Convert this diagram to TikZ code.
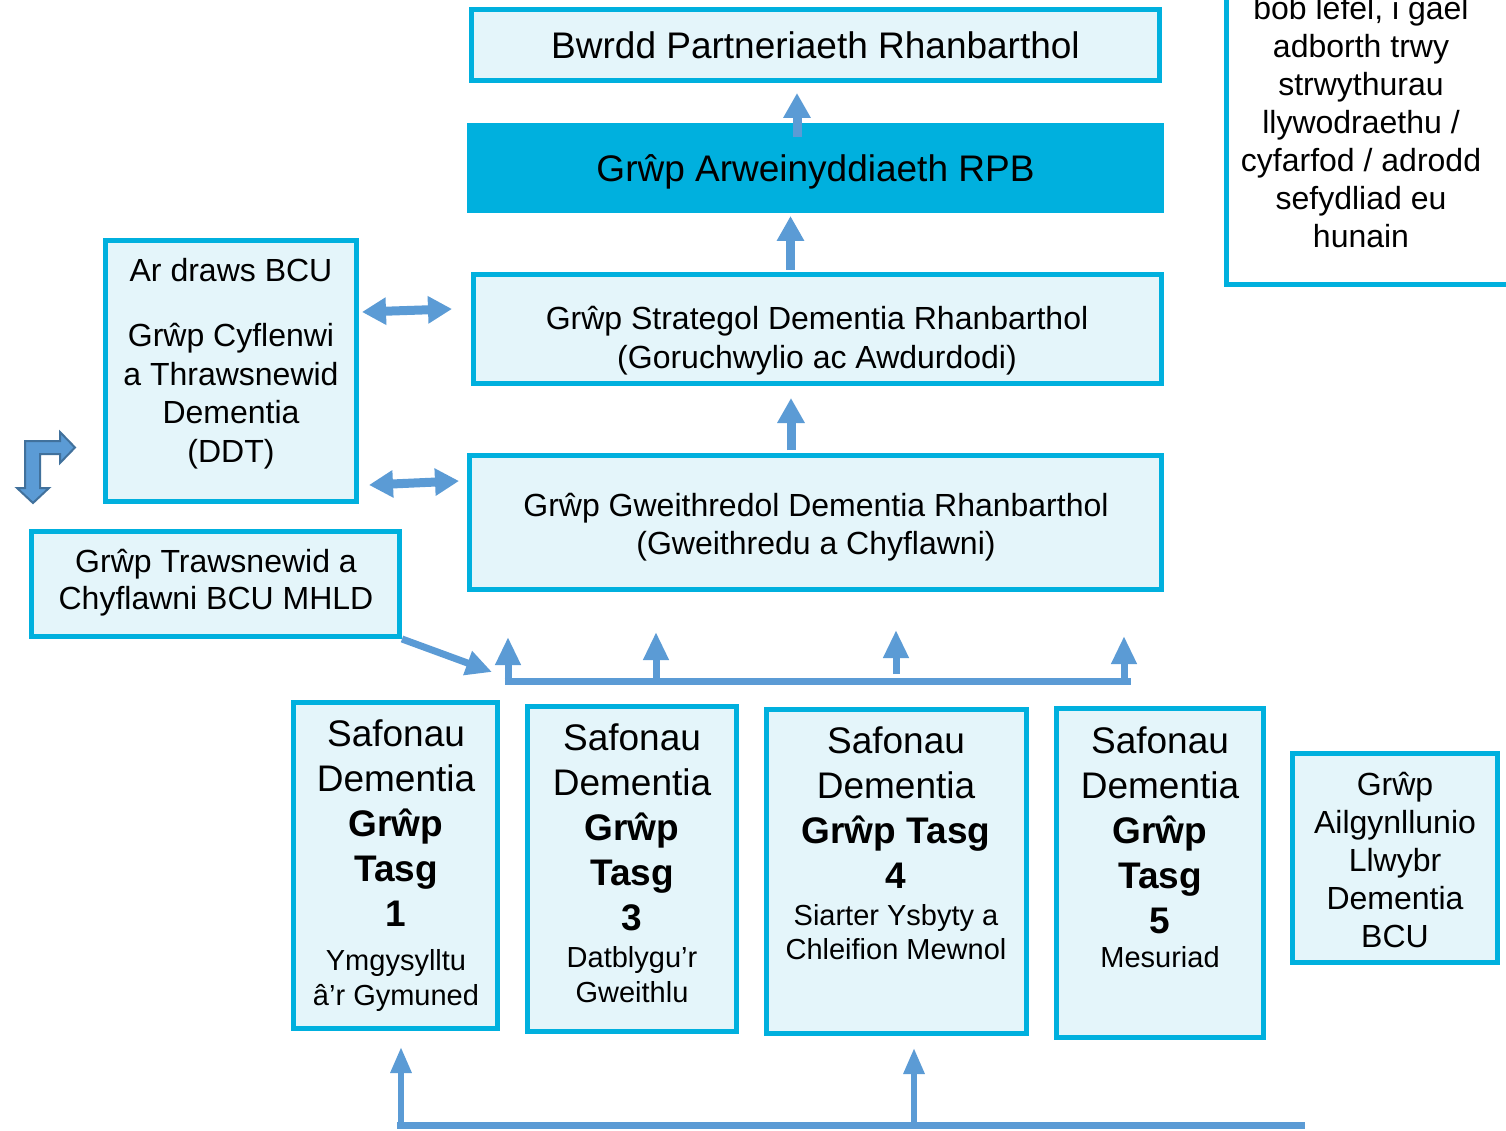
\documentclass[tikz,border=0pt]{standalone}
\usepackage{fontspec}
\setmainfont{Liberation Sans}
\usetikzlibrary{arrows.meta}
\definecolor{cyanB}{RGB}{0,176,222}
\definecolor{lightB}{RGB}{228,245,250}
\definecolor{arrowB}{RGB}{91,155,213}
\definecolor{arrowD}{RGB}{65,113,156}
\begin{document}
\begin{tikzpicture}[x=1pt,y=-1pt,
 box/.style={draw=cyanB, line width=5pt, fill=lightB, inner sep=0pt},
 txt/.style={inner sep=0pt, align=center, anchor=north, text=black},
 big/.style={font=\fontsize{37}{45}\selectfont},
 mid/.style={font=\fontsize{32}{38.5}\selectfont},
 small/.style={font=\fontsize{29}{35}\selectfont},
 upar/.style={draw=arrowB, line width=9pt, -{Triangle[width=26pt,length=25pt]}},
 dblar/.style={draw=arrowB, line width=9pt, {Triangle[width=26pt,length=24pt]}-{Triangle[width=26pt,length=24pt]}},
 busar/.style={draw=arrowB, line width=7pt, -{Triangle[width=24pt,length=28pt]}},
 busline/.style={draw=arrowB, line width=7pt},
 botar/.style={draw=arrowB, line width=6pt, -{Triangle[width=20pt,length=26pt]}},
 diagar/.style={draw=arrowB, line width=7pt, -{Triangle[width=24pt,length=26pt]}}
]
\useasboundingbox (0,0) rectangle (1506,1131);
\fill[white] (0,0) rectangle (1506,1131);
\clip (0,0) rectangle (1506,1131);

% top boxes
\node[box, minimum width=688pt, minimum height=71pt, big] (bwrdd) at (815.5,45) {Bwrdd Partneriaeth Rhanbarthol};
\node[fill=cyanB, minimum width=697pt, minimum height=90pt, inner sep=0pt, big, text height=27pt, text depth=0pt] (arwein) at (815.5,168) {Grŵp Arweinyddiaeth RPB};

\node[box, minimum width=688pt, minimum height=109pt] (strat) at (817.5,329) {};
\node[txt, mid] (stratT) at (817,306.5) {Grŵp Strategol Dementia Rhanbarthol\\(Goruchwylio ac Awdurdodi)};

\node[box, minimum width=692pt, minimum height=134pt] (gweith) at (815.5,522.5) {};
\node[txt, mid] (gweithT) at (816,492.5) {Grŵp Gweithredol Dementia Rhanbarthol\\(Gweithredu a Chyflawni)};

% left boxes
\node[box, minimum width=251pt, minimum height=261pt] (ddt) at (231,371) {};
\node[txt, mid] (ddtA) at (231,258.5) {Ar draws BCU};
\node[txt, mid] (ddtB) at (231,323.5) {Grŵp Cyflenwi\\a Thrawsnewid\\Dementia\\(DDT)};

\node[box, minimum width=368pt, minimum height=105pt] (trans) at (215.5,584) {};
\node[txt, font=\fontsize{32}{37.5}\selectfont] (transT) at (216,548.5) {Grŵp Trawsnewid a\\Chyflawni BCU MHLD};

% top right box
\node[draw=cyanB, line width=5pt, fill=white, minimum width=286pt, minimum height=382pt, inner sep=0pt] (note) at (1369.5,93.5) {};
\node[txt, font=\fontsize{32}{38}\selectfont] (noteT) at (1361,-3.5) {bob lefel, i gael\\adborth trwy\\strwythurau\\llywodraethu /\\cyfarfod / adrodd\\sefydliad eu\\hunain};

% task group boxes
\node[box, minimum width=204pt, minimum height=326pt] (tg1) at (395.5,865.5) {};
\node[txt, big] (tg1T) at (396,720) {Safonau\\Dementia\\\textbf{Grŵp}\\\textbf{Tasg}\\\textbf{1}};
\node[txt, small] (tg1S) at (396,949.6) {Ymgysylltu\\â’r Gymuned};

\node[box, minimum width=209pt, minimum height=325pt] (tg3) at (632,869) {};
\node[txt, big] (tg3T) at (632,723.7) {Safonau\\Dementia\\\textbf{Grŵp}\\\textbf{Tasg}\\\textbf{3}};
\node[txt, small] (tg3S) at (632,946.6) {Datblygu’r\\Gweithlu};

\node[box, minimum width=260pt, minimum height=324pt] (tg4) at (896.5,871.5) {};
\node[txt, big] (tg4T) at (896,726.7) {Safonau\\Dementia\\\textbf{Grŵp Tasg}\\\textbf{4}};
\node[txt, font=\fontsize{29}{34}\selectfont] (tg4S) at (896,904.6) {Siarter Ysbyty a\\Chleifion Mewnol};

\node[box, minimum width=207pt, minimum height=329pt] (tg5) at (1160,873) {};
\node[txt, big] (tg5T) at (1160,726.5) {Safonau\\Dementia\\\textbf{Grŵp}\\\textbf{Tasg}\\\textbf{5}};
\node[txt, small] (tg5S) at (1160,946.6) {Mesuriad};

\node[box, minimum width=205pt, minimum height=209pt] (ailg) at (1395,858) {};
\node[txt, font=\fontsize{32}{38}\selectfont] (ailgT) at (1395,771.5) {Grŵp\\Ailgynllunio\\Llwybr\\Dementia\\BCU};

% vertical arrows in the centre column
\coordinate (a1s) at (797,137); \coordinate (a1e) at (797,93);
\coordinate (a2s) at (790.5,270); \coordinate (a2e) at (790.5,216);
\coordinate (a3s) at (791,450); \coordinate (a3e) at (791,398);
\draw[upar] (a1s) -- (a1e);
\draw[upar] (a2s) -- (a2e);
\draw[upar] (a3s) -- (a3e);

% double arrows
\coordinate (d1l) at (362,312); \coordinate (d1r) at (452,309);
\coordinate (d2l) at (369,485); \coordinate (d2r) at (459,481);
\draw[dblar] (d1l) -- (d1r);
\draw[dblar] (d2l) -- (d2r);

% bent arrow
\filldraw[fill=arrowB, draw=arrowD, line width=2pt]
 (25,441) -- (60,441) -- (60,432) -- (75,447.5) -- (60,463) -- (60,454) -- (40,454)
 -- (40,488) -- (49,488) -- (33,503) -- (17,488) -- (25,488) -- cycle;

% diagonal arrow
\coordinate (dgE) at (492,672);
\draw[diagar] (trans.south east) -- (dgE);

% bus with arrows
\coordinate (bL) at (508,681); \coordinate (bR) at (1127,681);
\draw[busline] ([xshift=-3.5pt]bL) -- ([xshift=3.5pt]bR);
\coordinate (u1s) at (508,684.5); \coordinate (u1e) at (508,637);
\coordinate (u2s) at (656,681); \coordinate (u2e) at (656,632);
\coordinate (u3s) at (896,674); \coordinate (u3e) at (896,630);
\coordinate (u4s) at (1124,684.5); \coordinate (u4e) at (1124,636);
\draw[busar] (u1s) -- (u1e);
\draw[busar] (u2s) -- (u2e);
\draw[busar] (u3s) -- (u3e);
\draw[busar] (u4s) -- (u4e);

% bottom line with arrows
\coordinate (cL) at (397,1125); \coordinate (cR) at (1305,1125);
\draw[busline] (cL) -- (cR);
\coordinate (v1s) at (401,1125); \coordinate (v1e) at (401,1047);
\coordinate (v2s) at (914,1125); \coordinate (v2e) at (914,1048);
\draw[botar] (v1s) -- (v1e);
\draw[botar] (v2s) -- (v2e);
\end{tikzpicture}
\end{document}
